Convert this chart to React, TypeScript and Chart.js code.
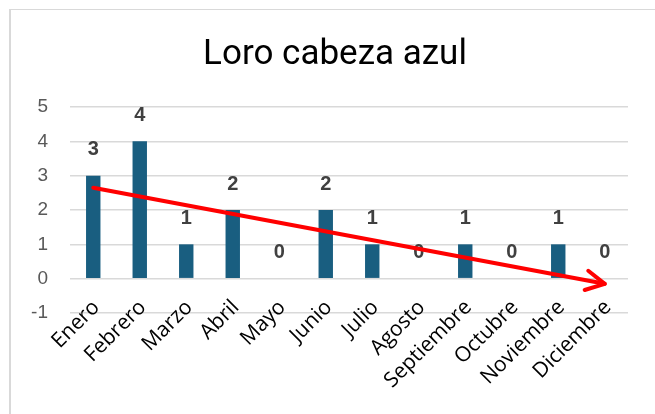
import React, { useEffect, useRef } from "react";
import { Chart, registerables } from "chart.js";

Chart.register(...registerables);

const titleText = "Loro cabeza azul";
const months = ["Enero", "Febrero", "Marzo", "Abril", "Mayo", "Junio", "Julio", "Agosto", "Septiembre", "Octubre", "Noviembre", "Diciembre"];
const sightings = [3, 4, 1, 2, 0, 2, 1, 0, 1, 0, 1, 0];
// trend line end points (first and last month), gaps in between
const trendValues = [2.65, null, null, null, null, null, null, null, null, null, null, -0.15];
const yMin = -1;
const yMax = 5;

const titlePlugin = {
  id: "centerTitle",
  afterDraw(chart: any) {
    const ctx = chart.ctx;
    ctx.save();
    ctx.font = "35px Roboto, 'Liberation Sans', sans-serif";
    ctx.fillStyle = "#000000";
    ctx.textAlign = "center";
    ctx.textBaseline = "alphabetic";
    ctx.fillText(titleText, chart.width / 2, 64);
    ctx.restore();
  },
};

// rotated category labels, drawn so they may reach slightly above the bottom gridline
const xLabelPlugin = {
  id: "xLabels",
  afterDraw(chart: any) {
    const ctx = chart.ctx;
    const xs = chart.scales.x;
    const area = chart.chartArea;
    ctx.save();
    ctx.font = "21px 'Open Sans', sans-serif";
    ctx.fillStyle = "#000000";
    ctx.textAlign = "right";
    ctx.textBaseline = "middle";
    months.forEach((m, i) => {
      const x = xs.getPixelForTick(i);
      ctx.save();
      ctx.translate(x + 3, area.bottom - 9);
      ctx.rotate(-Math.PI / 4);
      ctx.fillText(m, 0, 0);
      ctx.restore();
    });
    ctx.restore();
  },
};

const labelPlugin = {
  id: "barLabels",
  beforeDatasetsDraw(chart: any) {
    const ctx = chart.ctx;
    const meta = chart.getDatasetMeta(0);
    const yScale = chart.scales.y;
    ctx.save();
    ctx.font = "bold 20px 'Liberation Sans', Arial, sans-serif";
    ctx.fillStyle = "#404040";
    ctx.textAlign = "center";
    ctx.textBaseline = "middle";
    meta.data.forEach((bar: any, i: number) => {
      const v = sightings[i];
      ctx.fillText(String(v), bar.x, yScale.getPixelForValue(v) - 26);
    });
    ctx.restore();
  },
};

const arrowPlugin = {
  id: "trendArrow",
  afterDatasetsDraw(chart: any) {
    const meta = chart.getDatasetMeta(1);
    const pts = meta.data.filter((p: any, i: number) => trendValues[i] !== null);
    if (pts.length < 2) return;
    const a = pts[pts.length - 2];
    const b = pts[pts.length - 1];
    const ang = Math.atan2(b.y - a.y, b.x - a.x);
    const len = 21;
    const spread = Math.PI / 6.5;
    const ctx = chart.ctx;
    ctx.save();
    ctx.strokeStyle = "#ff0000";
    ctx.lineWidth = 4;
    ctx.lineCap = "round";
    ctx.lineJoin = "round";
    ctx.beginPath();
    ctx.moveTo(b.x - len * Math.cos(ang - spread), b.y - len * Math.sin(ang - spread));
    ctx.lineTo(b.x, b.y);
    ctx.lineTo(b.x - len * Math.cos(ang + spread), b.y - len * Math.sin(ang + spread));
    ctx.stroke();
    ctx.restore();
  },
};

export default function App() {
  const ref = useRef<HTMLCanvasElement>(null);
  useEffect(() => {
    const chart = new Chart(ref.current!, {
      type: "bar",
      data: {
        labels: months,
        datasets: [
          {
            type: "bar",
            data: sightings,
            backgroundColor: "#195e80",
            barPercentage: 0.31,
            categoryPercentage: 1,
            order: 1,
          },
          {
            type: "line",
            data: trendValues as any,
            borderColor: "#ff0000",
            borderWidth: 4,
            borderCapStyle: "round",
            pointRadius: 0,
            spanGaps: true,
            order: 0,
          } as any,
        ],
      },
      options: {
        animation: false,
        responsive: false,
        layout: { padding: { left: 0, right: 42, top: 107, bottom: 0 } },
        plugins: {
          legend: { display: false },
          tooltip: { enabled: false },
          title: { display: false },
        },
        scales: {
          x: {
            grid: { display: false, drawTicks: false },
            border: { display: false },
            ticks: { display: false, autoSkip: false },
            afterFit: (s: any) => {
              s.height = 101;
            },
          },
          y: {
            min: yMin,
            max: yMax,
            grid: { color: "#d9d9d9", lineWidth: 1.5, drawTicks: false },
            border: { display: false },
            ticks: {
              stepSize: 1,
              padding: 22,
              color: "#595959",
              font: { family: "'Liberation Sans', Arial, sans-serif", size: 19 },
            },
            afterFit: (s: any) => {
              s.width = 70;
            },
          },
        },
      },
      plugins: [labelPlugin, arrowPlugin, xLabelPlugin, titlePlugin],
    });
    return () => chart.destroy();
  }, []);
  return (
    <div style={{ position: "fixed", left: 0, top: 0, width: 670, height: 414, overflow: "hidden", background: "#fff" }}>
      <div style={{ position: "absolute", left: 9, top: 9, right: 0, height: 1, background: "#d9d9d9" }} />
      <div style={{ position: "absolute", left: 9, top: 9, bottom: 0, width: 2, background: "#d9d9d9" }} />
      <canvas ref={ref} width={670} height={414} style={{ position: "absolute", left: 0, top: 0 }} />
    </div>
  );
}
